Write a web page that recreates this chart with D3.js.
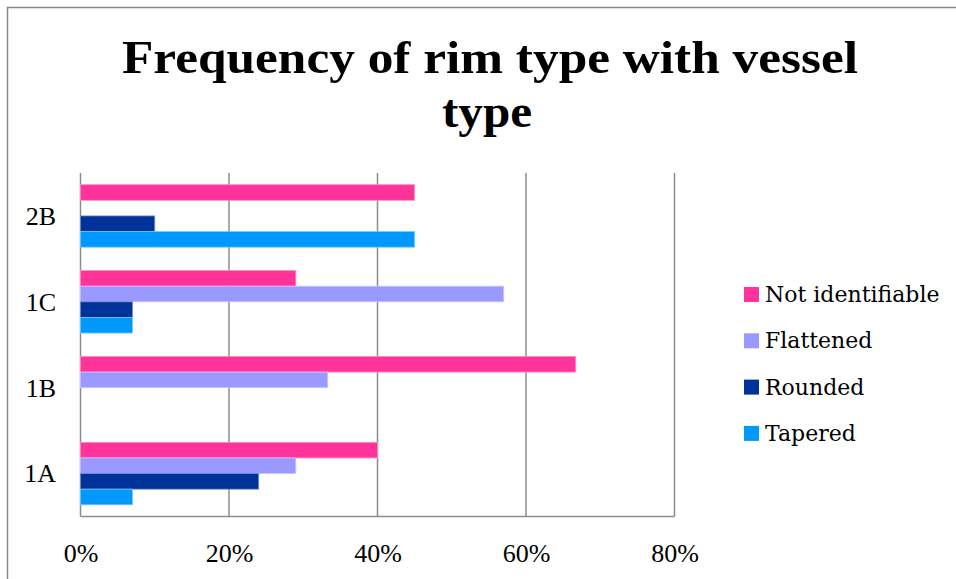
<!DOCTYPE html>
<html>
<head>
<meta charset="utf-8">
<script src="https://cdn.jsdelivr.net/npm/d3@7"></script>
<style>
  html, body { margin: 0; padding: 0; background: #ffffff; }
  svg { display: block; }
</style>
</head>
<body>
<svg id="chart" width="956" height="579"></svg>
<script>
// Vessel types, listed top to bottom on the vertical axis
const categories = ["2B", "1C", "1B", "1A"];
// Rim types, in the order they stack inside each vessel group (top first)
const seriesNames = ["Not identifiable", "Flattened", "Rounded", "Tapered"];
const seriesColors = ["#FF3399", "#9999FF", "#003399", "#0099FF"];
// Percent of each vessel type per rim type (rows follow categories)
const notIdentifiable = [45, 29, 66.7, 40];
const flattened       = [0, 57, 33.3, 29];
const rounded         = [10, 7, 0, 24];
const tapered         = [45, 7, 0, 7];
const xTicks = [0, 20, 40, 60, 80];
const titleLines = ["Frequency of rim type with vessel", "type"];

const seriesValues = [notIdentifiable, flattened, rounded, tapered];

const svg = d3.select("#chart");
const W = 956, H = 579;
const plot = { left: 80.5, right: 674.5, top: 173, bottom: 516.5 };

// Outer chart frame (runs off the right and bottom edges)
svg.append("rect")
  .attr("x", 7.5).attr("y", 7.5)
  .attr("width", W + 20).attr("height", H + 20)
  .attr("fill", "#ffffff")
  .attr("stroke", "#8a8a8a").attr("stroke-width", 1.5);

// Title
const title = svg.append("g")
  .attr("font-family", "'Liberation Serif', 'Times New Roman', serif")
  .attr("font-weight", "bold")
  .attr("fill", "#000000")
  .attr("text-anchor", "middle");
title.append("text")
  .attr("x", 490).attr("y", 73)
  .attr("font-size", 46)
  .attr("textLength", 736).attr("lengthAdjust", "spacingAndGlyphs")
  .text(titleLines[0]);
title.append("text")
  .attr("x", 487).attr("y", 127)
  .attr("font-size", 46)
  .attr("textLength", 90).attr("lengthAdjust", "spacingAndGlyphs")
  .text(titleLines[1]);

// Scales
const x = d3.scaleLinear().domain([0, 80]).range([plot.left, plot.right]);
const gap = 1.5; // gap between groups, in bar widths
const y = d3.scaleBand()
  .domain(categories)
  .range([plot.top, plot.bottom])
  .paddingInner(gap / (seriesNames.length + gap))
  .paddingOuter(gap / 2 / (seriesNames.length + gap));
const ySub = d3.scaleBand()
  .domain(seriesNames)
  .range([0, y.bandwidth()]);

// Vertical gridlines
svg.append("g")
  .selectAll("line")
  .data(xTicks)
  .join("line")
  .attr("x1", d => x(d)).attr("x2", d => x(d))
  .attr("y1", plot.top).attr("y2", plot.bottom)
  .attr("stroke", "#8c8c8c").attr("stroke-width", 1.5);

// Bottom edge of the plot area
svg.append("line")
  .attr("x1", plot.left).attr("x2", plot.right)
  .attr("y1", plot.bottom).attr("y2", plot.bottom)
  .attr("stroke", "#8c8c8c").attr("stroke-width", 1.5);

// Bars
const rows = [];
categories.forEach((c, ci) => {
  seriesNames.forEach((s, si) => {
    rows.push({ category: c, series: s, value: seriesValues[si][ci], color: seriesColors[si] });
  });
});
svg.append("g")
  .selectAll("rect")
  .data(rows.filter(d => d.value > 0))
  .join("rect")
  .attr("x", x(0))
  .attr("y", d => y(d.category) + ySub(d.series))
  .attr("width", d => x(d.value) - x(0))
  .attr("height", ySub.bandwidth())
  .attr("fill", d => d.color)
  .attr("stroke", d => d3.interpolateRgb(d.color, "#ffffff")(0.45))
  .attr("stroke-width", 0.8);

// Category labels
const yAxis = d3.axisLeft(y).tickSize(0).tickPadding(0);
const yG = svg.append("g")
  .attr("transform", `translate(56,0)`)
  .call(yAxis);
yG.select(".domain").remove();
yG.selectAll("text")
  .attr("font-family", "'Liberation Serif', 'Times New Roman', serif")
  .attr("font-size", 26)
  .attr("fill", "#000000")
  .attr("dy", "0.34em");

// Percent labels
const xAxis = d3.axisBottom(x).tickValues(xTicks).tickFormat(d => d + "%").tickSize(0).tickPadding(0);
const xG = svg.append("g")
  .attr("transform", `translate(0,562)`)
  .call(xAxis);
xG.select(".domain").remove();
xG.selectAll("text")
  .attr("font-family", "'Liberation Serif', 'Times New Roman', serif")
  .attr("font-size", 26)
  .attr("fill", "#000000")
  .attr("dy", 0);

// Legend
const legend = svg.append("g").attr("transform", "translate(744,287)");
const item = legend.selectAll("g")
  .data(seriesNames)
  .join("g")
  .attr("transform", (d, i) => `translate(0,${i * 46.3})`);
item.append("rect")
  .attr("width", 15).attr("height", 15)
  .attr("fill", (d, i) => seriesColors[i]);
item.append("text")
  .attr("x", 21).attr("y", 15)
  .attr("font-family", "'DejaVu Serif', serif")
  .attr("font-size", 22)
  .attr("fill", "#000000")
  .text(d => d);
</script>
</body>
</html>
